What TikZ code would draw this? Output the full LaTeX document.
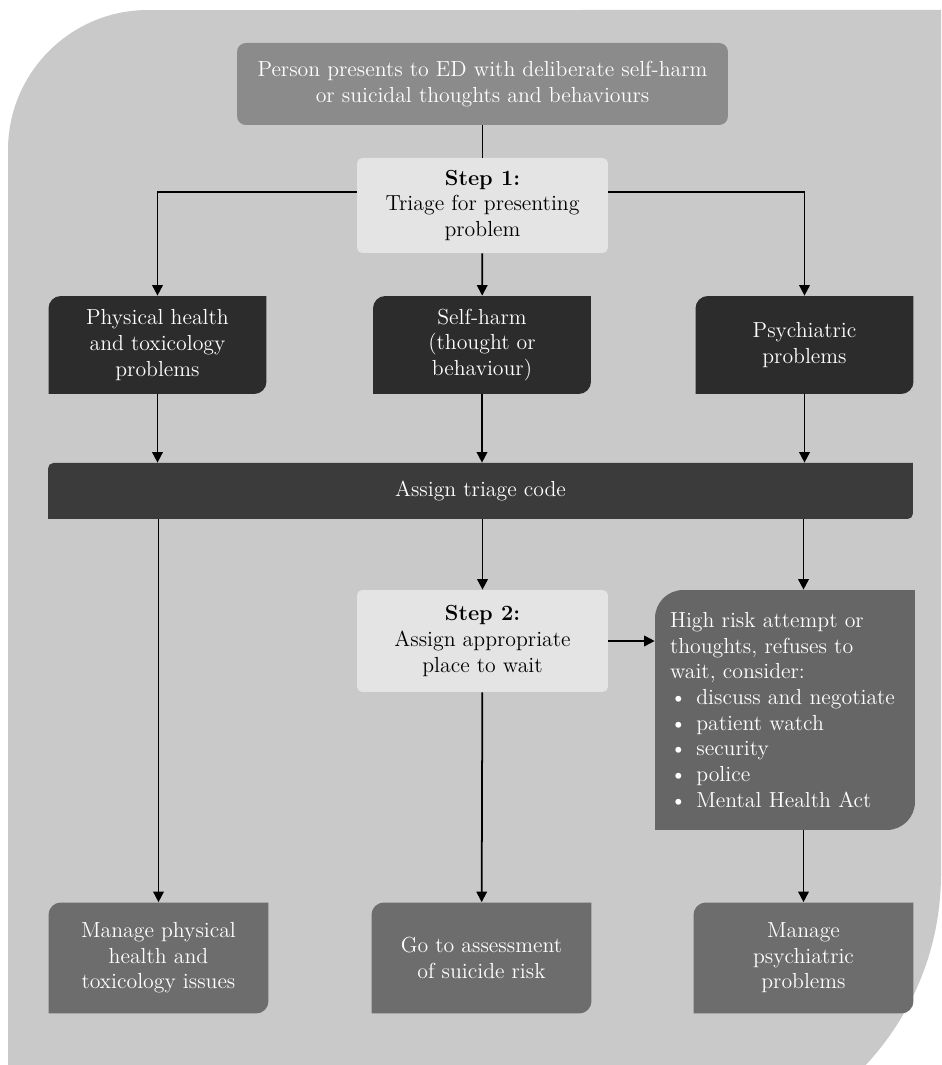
\documentclass[tikz,border=0pt]{standalone}
\usetikzlibrary{arrows.meta}
\definecolor{backgrey}{HTML}{C9C9C9}
\definecolor{topgrey}{HTML}{8B8B8B}
\definecolor{stepgrey}{HTML}{E4E4E4}
\definecolor{darkgrey}{HTML}{2C2C2C}
\definecolor{bargrey}{HTML}{3B3B3B}
\definecolor{riskgrey}{HTML}{666666}
\definecolor{endgrey}{HTML}{6D6D6D}

\begin{document}
\begin{tikzpicture}[x=0.02cm, y=0.02cm,
   every node/.style={font=\fontsize{12.4}{14.6}\selectfont},
   leaf/.style n args={2}{align=center, text=white, inner sep=4pt, path picture={
      \fill[#1] (path picture bounding box.south west)
         -- ([yshift=-#2]path picture bounding box.north west)
         arc[start angle=180, end angle=90, radius=#2]
         -- (path picture bounding box.north east)
         -- ([yshift=#2]path picture bounding box.south east)
         arc[start angle=0, end angle=-90, radius=#2] -- cycle;}},
   problem/.style={leaf={darkgrey}{7pt}, minimum width=4.36cm, minimum height=1.96cm},
   outcome/.style={leaf={endgrey}{7pt}, minimum width=4.4cm, minimum height=2.22cm},
   stepbox/.style={fill=stepgrey, rounded corners=3pt, align=center, minimum width=5.02cm, minimum height=1.9cm},
   link/.style={line width=1pt, -{Triangle[length=6pt, width=6pt]}}]

   \useasboundingbox (0,0) rectangle (941,1065);
   \clip (0,0) rectangle (941,1065);
   \fill[backgrey] (8,-89) -- (8,915) arc[start angle=180, end angle=90, radius=2.8cm]
      -- (941,1055) -- (941,191) arc[start angle=0, end angle=-90, radius=5.6cm] -- cycle;

   \node[fill=topgrey, text=white, rounded corners=5pt, align=center, minimum width=9.82cm, minimum height=1.64cm] (person) at (482.5,981)
      {Person presents to ED with deliberate self-harm\\or suicidal thoughts and behaviours};
   \node[stepbox] (step1) at (482.5,859.5) {\textbf{Step 1:}\\Triage for presenting\\problem};

   \node[problem] (physical) at (157.5,720) {Physical health\\and toxicology\\problems};
   \node[problem] (selfharm) at (482,720) {Self-harm\\(thought or\\behaviour)};
   \node[problem] (psychiatric) at (804.5,720) {Psychiatric\\problems};

   \node[leaf={bargrey}{3pt}, minimum width=17.3cm, minimum height=1.12cm] (triage) at (480.5,574) {Assign triage code};

   \node[stepbox, minimum height=2.04cm] (step2) at (482.5,424) {\textbf{Step 2:}\\Assign appropriate\\place to wait};
   \node[leaf={riskgrey}{16pt}, align=left, text width=4.6cm, inner xsep=0.3cm, minimum height=4.8cm] (risk) at (785,355)
      {High risk attempt or\\thoughts, refuses to\\wait, consider:\\
       \makebox[15pt][l]{\textbullet}discuss and negotiate\\
       \makebox[15pt][l]{\textbullet}patient watch\\
       \makebox[15pt][l]{\textbullet}security\\
       \makebox[15pt][l]{\textbullet}police\\
       \makebox[15pt][l]{\textbullet}Mental Health Act};

   \node[outcome] (physicalend) at (158.5,107) {Manage physical\\health and\\toxicology issues};
   \node[outcome] (assess) at (481.5,107) {Go to assessment\\of suicide risk};
   \node[outcome] (psychiatricend) at (803.5,107) {Manage\\psychiatric\\problems};

   \draw[line width=1pt] (person) -- (step1);
   \draw[link] ([yshift=0.27cm]step1.west) -| (physical.north);
   \draw[link] ([yshift=0.27cm]step1.east) -| (psychiatric.north);
   \draw[link] (step1) -- (selfharm);

   \draw[link] (physical) -- (physical |- triage.north);
   \draw[link] (selfharm) -- (selfharm |- triage.north);
   \draw[link] (psychiatric) -- (psychiatric |- triage.north);

   \draw[link] (physicalend |- triage.south) -- (physicalend);
   \draw[link] (step2 |- triage.south) -- (step2);
   \draw[link] (psychiatricend |- triage.south) -- (psychiatricend |- risk.north);
   \draw[link] (step2) -- (step2 -| risk.west);
   \draw[link] (step2) -- (assess);
   \draw[link] (psychiatricend |- risk.south) -- (psychiatricend);
\end{tikzpicture}
\end{document}
